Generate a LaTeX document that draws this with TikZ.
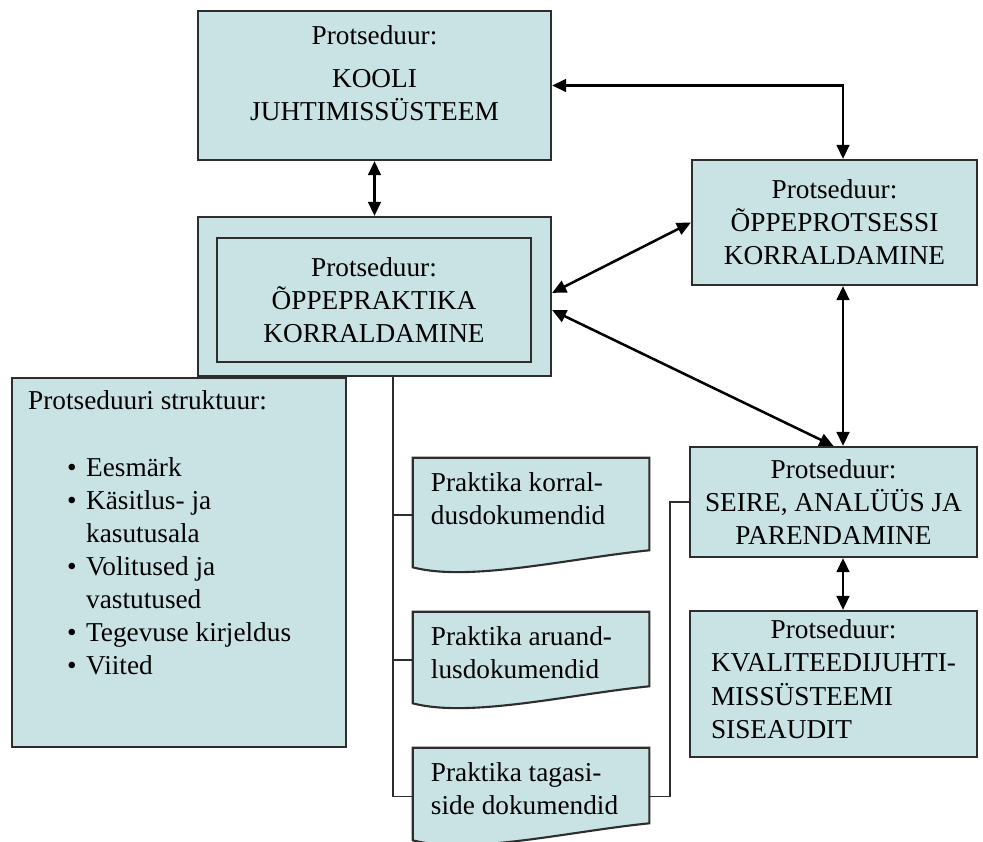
\documentclass[tikz,border=0pt]{standalone}
\usepackage{fontspec}
\setmainfont{Liberation Serif}
\usetikzlibrary{arrows.meta,calc}
\definecolor{procfill}{RGB}{201,227,229}
\definecolor{procline}{RGB}{45,45,45}
\newcommand{\strukitem}[1]{\hspace*{0.975cm}\makebox[0.475cm][l]{•}#1}
\newcommand{\strukcont}[1]{\hspace*{1.45cm}#1}
\tikzset{
  procbox/.style={draw=procline,fill=procfill,line width=1.5pt,align=center,inner sep=0pt},
  docbox/.style={inner sep=0pt,minimum width=5.9cm},
  docshape/.style={draw=procline,fill=procfill,line width=1.5pt},
  doctext/.style={anchor=north west,align=left,inner xsep=0.45cm,inner ysep=0.375cm},
  twoway/.style={{Triangle[length=10pt,width=9pt]}-{Triangle[length=10pt,width=9pt]},line width=1.8pt},
  feed/.style={draw=procline,line width=1.1pt},
  every picture/.style={font=\fontsize{19.4}{23.5}\selectfont}
}

\begin{document}
\begin{tikzpicture}[x=0.025cm,y=-0.025cm]
  \useasboundingbox (0,0) rectangle (983,841);
  % procedure boxes (positions in pixels of the page)
  \node[procbox,minimum width=8.825cm,minimum height=3.725cm] (kooli) at (374.5,85.5) {};
  \node[anchor=north,align=center,inner ysep=0.375cm] (koolitext) at (kooli.north)
    {Protseduur:\\[0.25cm]KOOLI\\JUHTIMISSÜSTEEM};
  \node[procbox,minimum width=8.825cm,minimum height=3.975cm] (praktika) at (374.5,296.5) {};
  \node[procbox,minimum width=7.85cm,minimum height=3.1cm] (praktikain) at (374,300)
    {Protseduur:\\ÕPPEPRAKTIKA\\KORRALDAMINE};
  \node[procbox,minimum width=7.125cm,minimum height=3.125cm] (protsess) at (834.5,222.5)
    {Protseduur:\\ÕPPEPROTSESSI\\KORRALDAMINE};
  \node[procbox,minimum width=7.175cm,minimum height=2.75cm] (seire) at (833.5,502)
    {Protseduur:\\SEIRE, ANALÜÜS JA\\PARENDAMINE};
  \node[procbox,minimum width=7.175cm,minimum height=3.65cm] (audit) at (833.5,684)
    {Protseduur:\\\begin{tabular}[t]{@{}l@{}}KVALITEEDIJUHTI-\\MISSÜSTEEMI\\SISEAUDIT\end{tabular}};

  % structure of a procedure
  \node[procbox,minimum width=8.35cm,minimum height=9.225cm] (struktuur) at (179,562.5) {};
  \node[anchor=north west,align=left,inner xsep=0.425cm,inner ysep=0.33cm] (struktuurtext)
    at (struktuur.north west)
    {Protseduuri struktuur:\\[0.85cm]
     \strukitem{Eesmärk}\\
     \strukitem{Käsitlus- ja}\\
     \strukcont{kasutusala}\\
     \strukitem{Volitused ja}\\
     \strukcont{vastutused}\\
     \strukitem{Tegevuse kirjeldus}\\
     \strukitem{Viited}};

  % documents with wavy bottom
  \node[docbox,minimum height=2.85cm] (doc1) at (531,515) {};
  \node[docbox,minimum height=2.4cm] (doc2) at (531,660) {};
  \node[docbox,minimum height=2.425cm] (doc3) at (531,796.5) {};
  \foreach \d in {doc1,doc2,doc3} {
    \path[docshape] (\d.north west) -- (\d.north east) -- ($(\d.south east)+(0,-22)$)
      .. controls +(-80,8) and +(57,15) .. ($(\d.south west)+(0,-5)$) -- cycle;
  }
  \node[doctext] (doc1text) at (doc1.north west) {Praktika korral-\\dusdokumendid};
  \node[doctext] (doc2text) at (doc2.north west) {Praktika aruand-\\lusdokumendid};
  \node[doctext] (doc3text) at (doc3.north west) {Praktika tagasi-\\side dokumendid};

  % two-way links
  \coordinate (spine) at (843,0);
  \draw[twoway] (kooli) -- (praktika);
  \draw[twoway] (kooli.east) -| (protsess.north -| spine);
  \draw[twoway] ([yshift=0.09cm]praktika.east) -- (protsess.west);
  \draw[twoway] ([yshift=-0.34cm]praktika.east) -- (seire.north);
  \draw[twoway] (protsess.south -| spine) -- (seire.north -| spine);
  \draw[twoway] (seire.south -| spine) -- (audit.north -| spine);

  % document links
  \coordinate (trunk) at ([xshift=0.46cm]praktika.south);
  \coordinate (bend) at (670,0);
  \draw[feed] (trunk) |- (doc3.west);
  \draw[feed] (doc1.west) -- (doc1.west -| trunk);
  \draw[feed] (doc2.west) -- (doc2.west -| trunk);
  \draw[feed] (seire.west) -- (seire.west -| bend) |- (doc3.east);
\end{tikzpicture}
\end{document}
